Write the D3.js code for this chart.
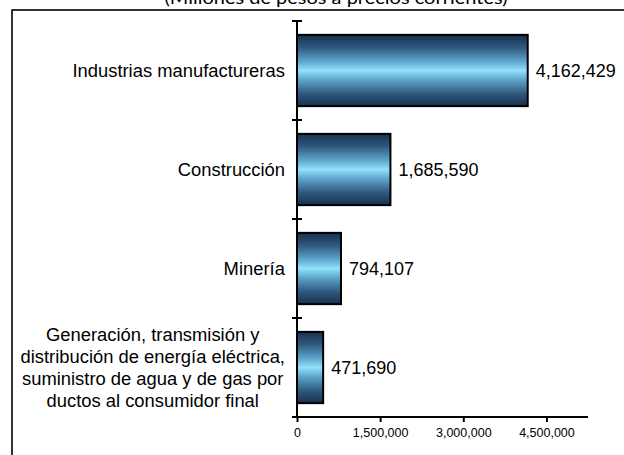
<!DOCTYPE html>
<html>
<head>
<meta charset="utf-8">
<script src="https://cdn.jsdelivr.net/npm/d3@7"></script>
<style>
	body { margin: 0; background: #fff; }
	svg { display: block; }
</style>
</head>
<body>
<div id="chart"></div>
<script>
const categories = [
	"Industrias manufactureras",
	"Construcción",
	"Minería",
	"Generación, transmisión y|distribución de energía eléctrica,|suministro de agua y de gas por|ductos al consumidor final"
];
const values = [4162429, 1685590, 794107, 471690];
const xTicks = [0, 1500000, 3000000, 4500000];
const title = "(Millones de pesos a precios corrientes)";

const width = 624, height = 455;
const fmt = d3.format(",");

const svg = d3.select("#chart").append("svg")
	.attr("width", width)
	.attr("height", height);

// gradient for the bars (dark edges, light middle)
const grad = svg.append("defs").append("linearGradient")
	.attr("id", "barGrad")
	.attr("x1", 0).attr("y1", 0).attr("x2", 0).attr("y2", 1);
[[0, "#17304d"], [0.18, "#2f5a80"], [0.38, "#62a8cf"], [0.5, "#92e2fa"],
 [0.62, "#62a8cf"], [0.82, "#2f5a80"], [1, "#17304d"]].forEach(s => {
	grad.append("stop").attr("offset", s[0]).attr("stop-color", s[1]);
});

// outer frame (cut by the picture edges)
svg.append("rect")
	.attr("x", 12).attr("y", 10)
	.attr("width", 700).attr("height", 500)
	.attr("fill", "none")
	.attr("stroke", "#000")
	.attr("stroke-width", 1.6);

// title, mostly cut off at the top
svg.append("text")
	.attr("x", 336).attr("y", 4)
	.attr("text-anchor", "middle")
	.attr("font-family", "Lato, 'Open Sans', sans-serif")
	.attr("font-size", 17)
	.attr("textLength", 343)
	.attr("lengthAdjust", "spacingAndGlyphs")
	.text(title);

const x = d3.scaleLinear().domain([0, 5250000]).range([297, 588]);
const y = d3.scaleBand().domain(categories).range([21, 417]).paddingInner(0.28).paddingOuter(0.14);

// bars
svg.selectAll("rect.bar")
	.data(values)
	.enter()
	.append("rect")
	.attr("class", "bar")
	.attr("x", x(0))
	.attr("y", (d, i) => y(categories[i]))
	.attr("width", d => x(d) - x(0))
	.attr("height", y.bandwidth())
	.attr("fill", "url(#barGrad)")
	.attr("stroke", "#000")
	.attr("stroke-width", 2);

// value labels
svg.selectAll("text.val")
	.data(values)
	.enter()
	.append("text")
	.attr("class", "val")
	.attr("x", d => x(d) + 8)
	.attr("y", (d, i) => y(categories[i]) + y.bandwidth() / 2)
	.attr("dy", "0.35em")
	.attr("font-family", "'Liberation Sans', Arial, sans-serif")
	.attr("font-size", 18)
	.text(d => fmt(d));

// y axis: line plus crossing ticks at category boundaries
const yAxis = svg.append("g");
yAxis.append("line")
	.attr("x1", x(0)).attr("x2", x(0))
	.attr("y1", 21).attr("y2", 417)
	.attr("stroke", "#000").attr("stroke-width", 2);
const step = y.step();
yAxis.selectAll("line.tick")
	.data(d3.range(categories.length + 1))
	.enter()
	.append("line")
	.attr("class", "tick")
	.attr("x1", x(0) - 5).attr("x2", x(0) + 5)
	.attr("y1", i => 21 + i * (396 / categories.length))
	.attr("y2", i => 21 + i * (396 / categories.length))
	.attr("stroke", "#000").attr("stroke-width", 2);

// category labels, right aligned block, lines centred
categories.forEach((c, i) => {
	const lines = c.split("|");
	const cy = y(c) + y.bandwidth() / 2;
	const g = svg.append("g");
	const t = g.append("text")
		.attr("font-family", "'Liberation Sans', Arial, sans-serif")
		.attr("font-size", 17.5)
		.attr("text-anchor", "middle");
	const lh = 22;
	lines.forEach((l, j) => {
		t.append("tspan")
			.attr("x", 0)
			.attr("y", cy + (j - (lines.length - 1) / 2) * lh)
			.attr("dy", "0.35em")
			.text(l);
	});
	const w = t.node().getBBox().width * 1.05;
	t.attr("transform", `translate(${285 - w / 2},0) scale(1.05,1)`);
});

// x axis
const xAxis = svg.append("g")
	.attr("transform", "translate(0,417)")
	.call(d3.axisBottom(x).tickValues(xTicks).tickFormat(fmt).tickSize(5).tickSizeOuter(0));
xAxis.select(".domain")
	.attr("d", `M${x(0) - 5},0H588`)
	.attr("stroke-width", 2);
xAxis.selectAll(".tick line").attr("stroke-width", 2);
xAxis.selectAll(".tick text")
	.attr("font-family", "'Liberation Sans', Arial, sans-serif")
	.attr("font-size", 12.5)
	.attr("fill", "#000")
	.attr("dy", "0.71em")
	.attr("y", 11);
</script>
</body>
</html>
